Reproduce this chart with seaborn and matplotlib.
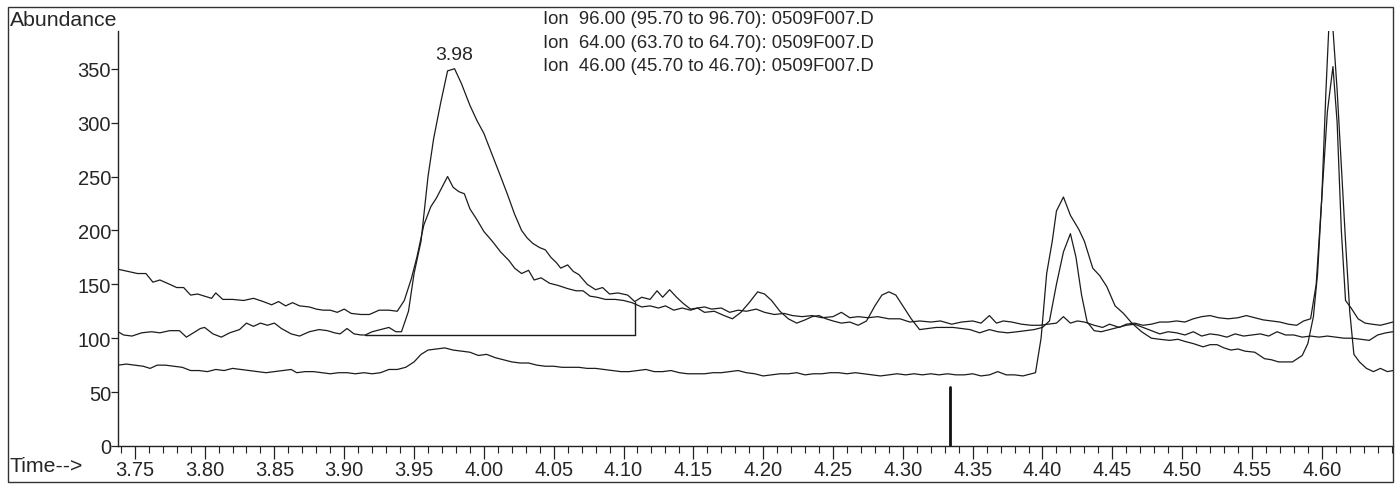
import matplotlib
matplotlib.use("Agg")
import matplotlib.pyplot as plt
from matplotlib.patches import Rectangle
from matplotlib.ticker import MultipleLocator, FixedLocator
import seaborn as sns
import pandas as pd

# ---------------- data (time [min], abundance) ----------------
ion96 = [
    (3.738,106),(3.742,103),(3.748,102),(3.755,105),(3.762,106),(3.768,105),(3.775,107),(3.782,107),
    (3.787,101),(3.792,105),(3.797,109),(3.800,110),(3.806,104),(3.812,101),(3.818,105),(3.825,108),
    (3.830,114),(3.835,111),(3.840,114),(3.845,112),(3.850,114),(3.855,109),(3.862,104),(3.868,102),
    (3.875,106),(3.882,108),(3.888,107),(3.893,105),(3.897,104),(3.902,109),(3.907,104),(3.912,103),
    (3.915,103),(3.920,106),(3.926,108),(3.932,110),(3.937,106),(3.941,106),(3.946,125),(3.950,160),
    (3.955,190),(3.960,250),(3.964,285),(3.969,318),(3.974,348),(3.979,350),(3.984,336),(3.990,316),
    (3.995,302),(4.000,290),(4.006,270),(4.012,250),(4.017,233),(4.022,215),(4.027,200),(4.031,193),
    (4.035,188),(4.040,184),(4.044,182),(4.048,175),(4.052,170),(4.055,165),(4.060,168),(4.064,162),
    (4.068,159),(4.074,150),(4.080,145),(4.085,147),(4.090,141),(4.096,142),(4.103,140),(4.108,134),
    (4.113,138),(4.119,136),(4.124,144),(4.128,138),(4.133,145),(4.138,138),(4.143,132),(4.148,127),
    (4.153,128),(4.158,129),(4.163,127),(4.170,128),(4.176,124),(4.182,126),(4.188,125),(4.195,127),
    (4.201,124),(4.208,122),(4.215,123),(4.221,121),(4.228,120),(4.235,121),(4.242,119),(4.250,120),
    (4.256,124),(4.262,119),(4.268,120),(4.275,119),(4.282,120),(4.290,118),(4.298,118),(4.305,115),
    (4.312,116),(4.320,115),(4.327,116),(4.335,113),(4.342,115),(4.350,116),(4.356,114),(4.362,121),
    (4.367,114),(4.372,116),(4.378,115),(4.385,113),(4.392,112),(4.398,112),(4.404,113),(4.410,114),
    (4.415,120),(4.420,114),(4.425,116),(4.430,115),(4.437,112),(4.443,110),(4.448,113),(4.455,110),
    (4.460,113),(4.466,114),(4.472,112),(4.478,113),(4.484,115),(4.490,115),(4.496,116),(4.502,115),
    (4.508,118),(4.514,120),(4.520,121),(4.526,119),(4.533,118),(4.540,119),(4.546,121),(4.552,119),
    (4.558,117),(4.564,116),(4.570,115),(4.576,113),(4.582,112),(4.587,116),(4.592,118),(4.596,150),
    (4.600,230),(4.604,310),(4.608,352),(4.611,300),(4.614,200),(4.617,135),(4.621,128),(4.626,118),
    (4.631,114),(4.636,113),(4.642,112),(4.648,114),(4.651,115),
]

ion64 = [
    (3.738,164),(3.745,162),(3.752,160),(3.758,160),(3.763,152),(3.768,154),(3.775,150),(3.780,147),
    (3.785,147),(3.790,140),(3.795,141),(3.800,139),(3.805,137),(3.808,142),(3.813,136),(3.820,136),
    (3.828,135),(3.835,137),(3.842,134),(3.848,131),(3.853,134),(3.858,130),(3.863,133),(3.868,130),
    (3.875,129),(3.880,127),(3.885,126),(3.890,126),(3.895,124),(3.900,127),(3.905,123),(3.912,122),
    (3.918,122),(3.925,126),(3.932,126),(3.938,125),(3.943,135),(3.948,155),(3.952,175),(3.957,205),
    (3.962,222),(3.966,230),(3.970,240),(3.974,250),(3.978,240),(3.982,236),(3.986,234),(3.990,220),
    (3.995,210),(4.000,199),(4.006,190),(4.012,180),(4.018,172),(4.022,165),(4.027,160),(4.032,163),
    (4.036,154),(4.041,156),(4.047,151),(4.053,149),(4.060,146),(4.066,144),(4.071,144),(4.076,139),
    (4.081,138),(4.087,136),(4.094,136),(4.100,135),(4.106,133),(4.113,129),(4.119,130),(4.125,128),
    (4.130,130),(4.136,126),(4.142,128),(4.148,126),(4.153,128),(4.158,124),(4.165,125),(4.172,121),
    (4.178,118),(4.184,124),(4.190,133),(4.196,143),(4.201,141),(4.206,135),(4.212,125),(4.218,118),
    (4.224,114),(4.230,117),(4.235,120),(4.240,121),(4.245,118),(4.250,116),(4.256,114),(4.262,115),
    (4.268,112),(4.274,116),(4.280,130),(4.285,140),(4.290,143),(4.295,140),(4.300,130),(4.306,118),
    (4.312,108),(4.318,109),(4.324,110),(4.330,110),(4.336,110),(4.342,109),(4.348,108),(4.355,105),
    (4.362,108),(4.368,106),(4.375,105),(4.382,106),(4.388,107),(4.394,108),(4.400,110),(4.405,116),
    (4.410,150),(4.415,180),(4.420,197),(4.424,175),(4.428,140),(4.432,115),(4.437,107),(4.442,106),
    (4.448,108),(4.454,110),(4.460,112),(4.466,113),(4.472,110),(4.478,107),(4.484,104),(4.490,106),
    (4.496,105),(4.502,103),(4.508,106),(4.514,102),(4.520,104),(4.526,103),(4.532,101),(4.538,104),
    (4.544,102),(4.550,103),(4.556,104),(4.562,102),(4.568,106),(4.574,103),(4.580,103),(4.586,101),
    (4.592,102),(4.598,101),(4.604,102),(4.610,101),(4.616,100),(4.622,100),(4.628,99),(4.634,98),
    (4.640,103),(4.646,105),(4.651,106),
]

ion46 = [
    (3.738,75),(3.744,76),(3.750,75),(3.756,74),(3.761,72),(3.766,75),(3.772,75),(3.778,74),
    (3.784,73),(3.790,70),(3.796,70),(3.802,69),(3.808,71),(3.814,70),(3.820,72),(3.826,71),
    (3.832,70),(3.838,69),(3.844,68),(3.850,69),(3.856,70),(3.862,71),(3.866,68),(3.872,69),
    (3.878,69),(3.884,68),(3.890,67),(3.896,68),(3.902,68),(3.908,67),(3.914,68),(3.920,67),
    (3.926,68),(3.932,71),(3.938,71),(3.944,73),(3.950,78),(3.955,85),(3.960,89),(3.966,90),
    (3.972,91),(3.978,89),(3.984,88),(3.990,87),(3.996,84),(4.002,85),(4.008,82),(4.014,80),
    (4.020,78),(4.026,77),(4.032,77),(4.038,75),(4.044,74),(4.050,74),(4.056,73),(4.062,73),
    (4.068,73),(4.074,72),(4.080,72),(4.086,71),(4.092,70),(4.098,69),(4.104,69),(4.110,70),
    (4.116,71),(4.122,69),(4.128,69),(4.134,70),(4.140,68),(4.146,67),(4.152,67),(4.158,67),
    (4.164,68),(4.170,68),(4.176,69),(4.182,70),(4.188,68),(4.194,67),(4.200,65),(4.206,66),
    (4.212,67),(4.218,67),(4.224,68),(4.230,66),(4.236,67),(4.242,67),(4.248,68),(4.254,68),
    (4.260,67),(4.266,68),(4.272,67),(4.278,66),(4.284,65),(4.290,66),(4.296,67),(4.302,66),
    (4.308,67),(4.314,66),(4.320,67),(4.326,66),(4.332,67),(4.338,66),(4.344,66),(4.350,67),
    (4.356,65),(4.362,66),(4.368,69),(4.374,66),(4.380,66),(4.386,65),(4.392,67),(4.395,68),
    (4.399,100),(4.403,160),(4.407,190),(4.410,218),(4.415,231),(4.420,214),(4.426,201),(4.430,190),
    (4.436,165),(4.441,158),(4.446,148),(4.452,130),(4.458,123),(4.464,114),(4.471,106),(4.478,100),
    (4.484,99),(4.491,98),(4.497,99),(4.502,97),(4.508,95),(4.515,92),(4.520,94),(4.525,94),
    (4.530,91),(4.535,89),(4.540,90),(4.545,88),(4.552,87),(4.559,81),(4.564,80),(4.569,78),
    (4.575,78),(4.579,78),(4.586,84),(4.590,95),(4.594,120),(4.597,160),(4.600,230),(4.603,330),
    (4.605,387),(4.608,387),(4.611,330),(4.614,260),(4.617,190),(4.620,125),(4.623,85),(4.627,78),
    (4.632,72),(4.637,69),(4.642,72),(4.647,69),(4.651,70),
]

series = {"Ion 96": ion96, "Ion 64": ion64, "Ion 46": ion46}

legend_lines = [
    "Ion  96.00 (95.70 to 96.70): 0509F007.D",
    "Ion  64.00 (63.70 to 64.70): 0509F007.D",
    "Ion  46.00 (45.70 to 46.70): 0509F007.D",
]
peak_label = "3.98"
peak_label_pos = (3.979, 355)
integ_t = [3.915, 4.108]
integ_level = 103
integ_drop_top = 134
marker_t = 4.334
marker_height = 55

x_major = [3.75, 3.80, 3.85, 3.90, 3.95, 4.00, 4.05, 4.10, 4.15, 4.20,
           4.25, 4.30, 4.35, 4.40, 4.45, 4.50, 4.55, 4.60]
y_major = [0, 50, 100, 150, 200, 250, 300, 350]

# ---------------- build frame ----------------
rows = []
for name, pts in series.items():
    for t, v in pts:
        rows.append({"ion": name, "time": t, "abundance": v})
df = pd.DataFrame(rows)

sns.set_theme(style="white")
plt.rcParams["font.family"] = ["Liberation Sans", "DejaVu Sans"]

W, H = 1395, 485
fig = plt.figure(figsize=(W / 100, H / 100), dpi=100)
fig.patch.set_facecolor("white")
ax = fig.add_axes([118 / W, 38 / H, (1393 - 118) / W, (447 - 32) / H])
ax.set_facecolor("white")

sns.lineplot(data=df, x="time", y="abundance", units="ion", estimator=None,
             sort=False, color="#1c1c1c", linewidth=0.9, ax=ax, legend=False)

ax.plot(integ_t, [integ_level, integ_level], color="#1c1c1c", lw=1.0)
ax.plot([integ_t[1], integ_t[1]], [integ_level, integ_drop_top], color="#1c1c1c", lw=1.0)
ax.plot([marker_t, marker_t], [0, marker_height], color="#111111", lw=2.0)

ax.set_xlim(3.738, 4.651)
ax.set_ylim(0, 385)

for s in ["top", "right"]:
    ax.spines[s].set_visible(False)
for s in ["left", "bottom"]:
    ax.spines[s].set_visible(True)
    ax.spines[s].set_color("#222222")
    ax.spines[s].set_linewidth(1.0)

ax.xaxis.set_major_locator(FixedLocator(x_major))
ax.xaxis.set_minor_locator(MultipleLocator(0.01))
ax.set_xticklabels([f"{v:.2f}" for v in x_major])
ax.yaxis.set_major_locator(FixedLocator(y_major))
ax.set_yticklabels([str(v) for v in y_major])

ax.tick_params(axis="x", which="major", direction="out", length=9, width=0.9,
               color="#222222", labelsize=14.5, pad=1, bottom=True)
ax.tick_params(axis="x", which="minor", direction="out", length=5, width=0.8,
               color="#222222", bottom=True)
ax.tick_params(axis="y", which="major", direction="out", length=5, width=0.9,
               color="#222222", labelsize=14.5, pad=0, left=True)
ax.set_xlabel("")
ax.set_ylabel("")
ax.grid(False)

# texts
fig.text(10 / W, 1 - 20 / H, "Abundance", fontsize=15.3, ha="left", va="center")
fig.text(10 / W, 1 - 467 / H, "Time-->", fontsize=15.3, ha="left", va="center")
for i, line in enumerate(legend_lines):
    fig.text(543 / W, 1 - (19 + 24 * i) / H, line, fontsize=13.3, ha="left", va="center")
ax.text(peak_label_pos[0], peak_label_pos[1], peak_label, fontsize=14, ha="center", va="bottom")

# outer frame
fig.patches.append(Rectangle((8 / W, 2 / H), (1393 - 8) / W, (480 - 5) / H,
                             transform=fig.transFigure, fill=False,
                             edgecolor="#333333", linewidth=1.0))

fig.savefig("out.png", dpi=100)
